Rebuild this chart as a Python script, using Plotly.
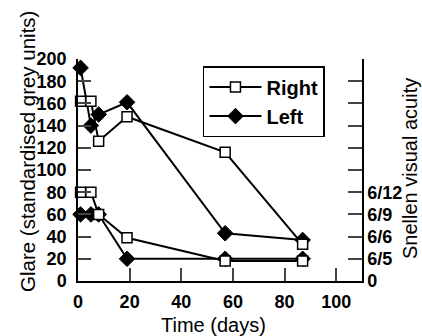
import plotly.graph_objects as go

days = [1, 5, 8, 19, 57, 87]
right_glare = [162, 162, 126, 148, 116, 33]
left_glare = [192, 140, 150, 161, 43, 37]
right_acuity = [80, 80, 60, 39, 18, 18]
left_acuity = [60, 60, 60, 20, 20, 20]

x_ticks = [0, 20, 40, 60, 80, 100]
glare_ticks = list(range(0, 201, 20))
acuity_tickvals = list(range(0, 201, 20))
acuity_ticktext = ["0", "6/5", "6/6", "6/9", "6/12", "", "", "", "", "", ""]

FONT = "Liberation Sans, Arial, sans-serif"
line = dict(color="black", width=2)
sq = dict(symbol="square", size=10, color="white", line=dict(color="black", width=1.5))
dm = dict(symbol="diamond", size=12, color="black", line=dict(color="black", width=1))

fig = go.Figure()
fig.add_trace(go.Scatter(x=days, y=left_acuity, mode="lines+markers", line=line, marker=dm,
                         yaxis="y2", showlegend=False, cliponaxis=False, legendgroup="L"))
fig.add_trace(go.Scatter(x=days, y=left_glare, mode="lines+markers", line=line, marker=dm,
                         name="Left", legendrank=2, cliponaxis=False, legendgroup="L"))
fig.add_trace(go.Scatter(x=days, y=right_acuity, mode="lines+markers", line=line, marker=sq,
                         yaxis="y2", showlegend=False, cliponaxis=False, legendgroup="R"))
fig.add_trace(go.Scatter(x=days, y=right_glare, mode="lines+markers", line=line, marker=sq,
                         name="Right", legendrank=1, cliponaxis=False, legendgroup="R"))

tickfont = dict(family=FONT, size=18, color="black", weight="bold")
fig.update_layout(
    template="none",
    width=422, height=336,
    margin=dict(l=78, r=60, t=59, b=55, autoexpand=False),
    paper_bgcolor="white", plot_bgcolor="white",
    font=dict(family=FONT, color="black"),
    xaxis=dict(range=[0, 110], tickvals=x_ticks, ticks="inside", ticklen=13, tickwidth=1.5,
               showline=True, linecolor="black", linewidth=1.5, showgrid=False, zeroline=False,
               tickfont=tickfont, ticklabelstandoff=4, automargin=False),
    yaxis=dict(range=[0, 200], tickvals=glare_ticks, ticks="inside", ticklen=13, tickwidth=1.5,
               showline=True, linecolor="black", linewidth=1.5, showgrid=False, zeroline=False,
               tickfont=tickfont, ticklabelstandoff=6, automargin=False),
    yaxis2=dict(range=[0, 200], overlaying="y", side="right", tickvals=acuity_tickvals,
                ticktext=acuity_ticktext, ticks="inside", ticklen=14, tickwidth=1.5,
                showline=True, linecolor="black", linewidth=1.5, showgrid=False, zeroline=False,
                tickfont=tickfont, ticklabelstandoff=0, automargin=False),
    legend=dict(x=0.44, y=0.968, xanchor="left", yanchor="top", bordercolor="black", borderwidth=1.5,
                bgcolor="white", font=dict(family=FONT, size=20, color="black", weight="bold"),
                tracegroupgap=0, traceorder="grouped", itemwidth=52, entrywidth=72),
    annotations=[
        dict(text="Glare (standardised grey units)", textangle=-90, xref="paper", yref="paper",
             x=(27 - 78) / 284, y=(281 - 152) / 222, xanchor="center", yanchor="middle",
             showarrow=False, font=dict(family=FONT, size=20.5, color="black")),
        dict(text="Snellen visual acuity", textangle=-90, xref="paper", yref="paper",
             x=(410 - 78) / 284, y=(281 - 169) / 222, xanchor="center", yanchor="middle",
             showarrow=False, font=dict(family=FONT, size=20, color="black")),
        dict(text="Time (days)", xref="paper", yref="paper",
             x=(213 - 78) / 284, y=(281 - 325) / 222, xanchor="center", yanchor="middle",
             showarrow=False, font=dict(family=FONT, size=20, color="black")),
    ],
)

fig.write_html("out.html", config={"displayModeBar": False},
               post_script="document.body.style.margin='0px';document.body.style.overflow='hidden';")
